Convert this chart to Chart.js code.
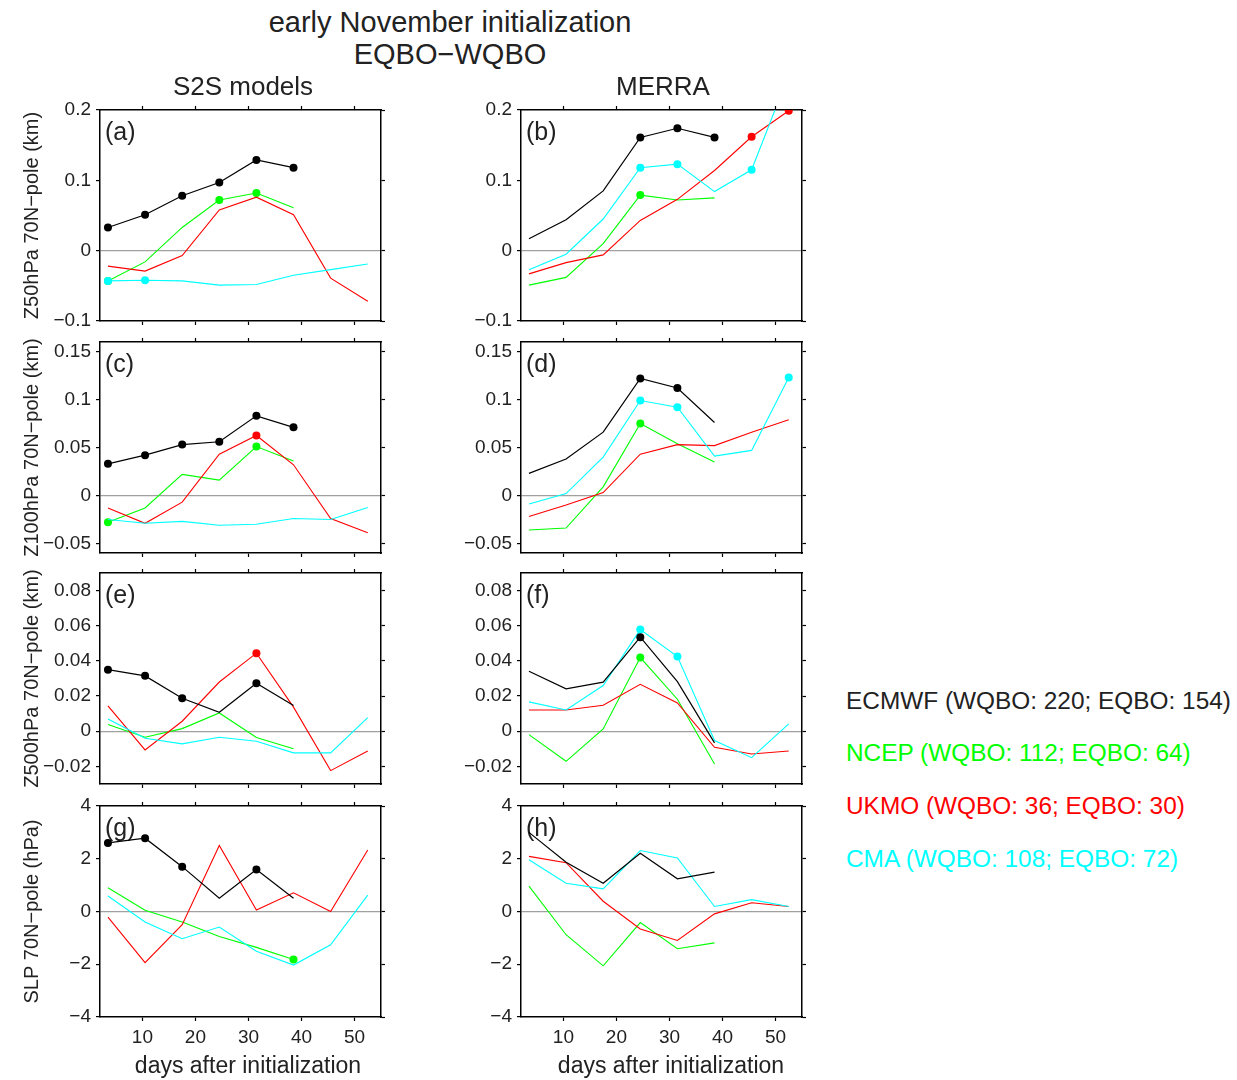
<!DOCTYPE html>
<html>
<head>
<meta charset="utf-8">
<script src="https://cdn.jsdelivr.net/npm/chart.js@4.4.1/dist/chart.umd.min.js"></script>
<style>
  body { margin: 0; background: #fff; width: 1237px; height: 1080px; position: relative; overflow: hidden;
         font-family: "Liberation Sans", Arial, sans-serif; color: #222; }
  canvas { position: absolute; }
  .txt { position: absolute; white-space: nowrap; line-height: 1; }
</style>
</head>
<body>
<script>
// weekly means, centred on day 3.5, 10.5, ...
const days = [3.5, 10.5, 17.5, 24.5, 31.5, 38.5, 45.5, 52.5];
const xTicks = [10, 20, 30, 40, 50];

// Z50 70N-pole, S2S models
const aECMWF = [0.033, 0.051, 0.078, 0.097, 0.129, 0.118];
const aNCEP  = [-0.043, -0.016, 0.033, 0.072, 0.082, 0.061];
const aUKMO  = [-0.022, -0.029, -0.007, 0.058, 0.076, 0.051, -0.039, -0.072];
const aCMA   = [-0.043, -0.042, -0.043, -0.049, -0.048, -0.035, -0.027, -0.019];
// Z50 70N-pole, MERRA
const bECMWF = [0.017, 0.044, 0.085, 0.161, 0.174, 0.161];
const bNCEP  = [-0.049, -0.038, 0.010, 0.079, 0.072, 0.075];
const bUKMO  = [-0.033, -0.017, -0.006, 0.043, 0.073, 0.114, 0.162, 0.199];
const bCMA   = [-0.027, -0.005, 0.045, 0.118, 0.123, 0.084, 0.115, 0.25];
// Z100
const cECMWF = [0.033, 0.042, 0.053, 0.056, 0.083, 0.071];
const cNCEP  = [-0.028, -0.013, 0.022, 0.016, 0.051, 0.036];
const cUKMO  = [-0.013, -0.029, -0.007, 0.043, 0.0625, 0.032, -0.024, -0.039];
const cCMA   = [-0.025, -0.029, -0.027, -0.031, -0.030, -0.024, -0.025, -0.0125];
const dECMWF = [0.023, 0.038, 0.066, 0.122, 0.112, 0.076];
const dNCEP  = [-0.036, -0.034, 0.009, 0.075, 0.054, 0.035];
const dUKMO  = [-0.022, -0.010, 0.003, 0.043, 0.053, 0.052, 0.066, 0.079];
const dCMA   = [-0.009, 0.002, 0.040, 0.099, 0.092, 0.041, 0.047, 0.123];
// Z500
const eECMWF = [0.035, 0.0315, 0.0188, 0.0108, 0.0273, 0.0146];
const eNCEP  = [0.0038, -0.0034, 0.0015, 0.0104, -0.0036, -0.010];
const eUKMO  = [0.0144, -0.0106, 0.0057, 0.028, 0.0444, 0.0137, -0.0224, -0.0112];
const eCMA   = [0.007, -0.004, -0.0072, -0.0034, -0.0057, -0.0123, -0.0123, 0.0078];
const fECMWF = [0.0341, 0.0241, 0.0279, 0.0535, 0.0282, -0.0066];
const fNCEP  = [-0.0019, -0.0171, 0.0013, 0.0419, 0.0182, -0.0186];
const fUKMO  = [0.0121, 0.0121, 0.0148, 0.0267, 0.0161, -0.0091, -0.0129, -0.0112];
const fCMA   = [0.0167, 0.0121, 0.026, 0.0578, 0.0425, -0.0053, -0.015, 0.0042];
// SLP
const gECMWF = [2.6, 2.78, 1.70, 0.50, 1.59, 0.50];
const gNCEP  = [0.90, 0.05, -0.40, -0.95, -1.36, -1.82];
const gUKMO  = [-0.21, -1.94, -0.50, 2.50, 0.06, 0.71, 0.0, 2.33];
const gCMA   = [0.59, -0.40, -1.03, -0.59, -1.51, -2.03, -1.26, 0.62];
const hECMWF = [3.0, 1.87, 1.07, 2.21, 1.24, 1.49];
const hNCEP  = [0.96, -0.88, -2.06, -0.42, -1.41, -1.19];
const hUKMO  = [2.09, 1.85, 0.39, -0.66, -1.10, -0.09, 0.33, 0.19];
const hCMA   = [1.96, 1.07, 0.86, 2.31, 2.03, 0.19, 0.45, 0.19];

// weeks where the difference is significant (dots)
const aSig = { ECMWF: [0, 1, 2, 3, 4, 5], NCEP: [0, 3, 4], UKMO: [], CMA: [0, 1] };
const bSig = { ECMWF: [3, 4, 5], NCEP: [3], UKMO: [6, 7], CMA: [3, 4, 6] };
const cSig = { ECMWF: [0, 1, 2, 3, 4, 5], NCEP: [0, 4], UKMO: [4], CMA: [] };
const dSig = { ECMWF: [3, 4], NCEP: [3], UKMO: [], CMA: [3, 4, 7] };
const eSig = { ECMWF: [0, 1, 2, 4], NCEP: [], UKMO: [4], CMA: [] };
const fSig = { ECMWF: [3], NCEP: [3], UKMO: [], CMA: [3, 4] };
const gSig = { ECMWF: [0, 1, 2, 4], NCEP: [5], UKMO: [], CMA: [] };
const hSig = { ECMWF: [], NCEP: [], UKMO: [], CMA: [] };

const z50Ticks = [-0.1, 0, 0.1, 0.2];
const z100Ticks = [-0.05, 0, 0.05, 0.1, 0.15];
const z500Ticks = [-0.02, 0, 0.02, 0.04, 0.06, 0.08];
const slpTicks = [-4, -2, 0, 2, 4];

const models = ['ECMWF', 'NCEP', 'UKMO', 'CMA'];
const colors = { ECMWF: '#000000', NCEP: '#00ff00', UKMO: '#ff0000', CMA: '#00ffff' };
const legendText = {
  ECMWF: 'ECMWF (WQBO: 220; EQBO: 154)',
  NCEP: 'NCEP (WQBO: 112; EQBO: 64)',
  UKMO: 'UKMO (WQBO: 36; EQBO: 30)',
  CMA: 'CMA (WQBO: 108; EQBO: 72)'
};

const FONT = '"Liberation Sans", Arial, sans-serif';
const INK = '#222';

function addText(str, x, baseline, size, color, center) {
  const d = document.createElement('div');
  d.className = 'txt';
  d.textContent = str;
  d.style.fontSize = size + 'px';
  d.style.color = color;
  d.style.left = x + 'px';
  d.style.top = (baseline - 0.8465 * size) + 'px';
  if (center) d.style.transform = 'translateX(-50%)';
  document.body.appendChild(d);
}

function fmt(v) {
  return String(Number(v.toFixed(4))).replace('-', '\u2212');
}

const panelTag = {
  id: 'panelTag',
  beforeDatasetsDraw(chart, args, o) {
    const { ctx, chartArea } = chart;
    ctx.save();
    ctx.font = '25px ' + FONT;
    ctx.fillStyle = INK;
    ctx.textBaseline = 'alphabetic';
    ctx.fillText(o.text, chartArea.left + 5, chartArea.top + 30);
    ctx.restore();
  }
};

const plotLeft = [100, 521];
const plotTop = [110, 342, 573, 806];
const plotW = 281, plotH = 211;

function panel(col, row, tag, series, sig, yMin, yMax, yTicks, yTitle) {
  const last = row === 3;
  // top/bottom boxes wider than half a y tick label so they fix the plot area
  const leftW = col === 0 ? 84 : 66, topH = 18, rightW = 8, botH = last ? 40 : 18;
  const cv = document.createElement('canvas');
  cv.width = leftW + plotW + rightW;
  cv.height = topH + plotH + botH;
  cv.style.left = (plotLeft[col] - leftW) + 'px';
  cv.style.top = (plotTop[row] - topH) + 'px';
  document.body.appendChild(cv);

  const setX = s => { s.ticks = xTicks.map(v => ({ value: v })); };
  const setY = s => { s.ticks = yTicks.map(v => ({ value: v })); };
  const border = { display: true, color: '#000', width: 1.5 };
  const tickGrid = { drawOnChartArea: false, drawTicks: true, tickLength: 4, tickColor: '#000', tickWidth: 1.2 };

  // ECMWF drawn on top, then CMA, UKMO, NCEP
  const order = ['ECMWF', 'CMA', 'UKMO', 'NCEP'];
  const datasets = order.map(m => ({
    label: m,
    data: series[m].map((v, i) => ({ x: days[i], y: v })),
    borderColor: colors[m],
    backgroundColor: colors[m],
    borderWidth: m === 'ECMWF' ? 1.2 : 1.1,
    pointRadius: ctx => sig[m].includes(ctx.dataIndex) ? 4 : 0,
    pointBorderWidth: 0,
    pointHoverRadius: 0,
    tension: 0
  }));

  new Chart(cv, {
    type: 'line',
    data: { datasets },
    options: {
      responsive: false,
      animation: false,
      devicePixelRatio: 1,
      layout: { autoPadding: false, padding: 0 },
      plugins: { legend: { display: false }, tooltip: { enabled: false }, panelTag: { text: tag } },
      scales: {
        x: {
          type: 'linear', position: 'bottom', min: 2, max: 55,
          afterBuildTicks: setX,
          afterFit: s => { s.height = botH; },
          border,
          grid: tickGrid,
          ticks: { display: last, color: INK, font: { family: FONT, size: 19 }, padding: 5, maxRotation: 0,
                   callback: v => String(v) }
        },
        x2: {
          type: 'linear', position: 'top', min: 2, max: 55,
          afterBuildTicks: setX,
          afterFit: s => { s.height = topH; },
          border, grid: tickGrid, ticks: { display: false }
        },
        y: {
          type: 'linear', position: 'left', min: yMin, max: yMax,
          afterBuildTicks: setY,
          afterFit: s => { s.width = leftW; },
          border,
          grid: {
            drawOnChartArea: true, drawTicks: true, tickLength: 4, tickColor: '#000', tickWidth: 1.2,
            lineWidth: 1.2,
            color: ctx => (ctx.tick && ctx.tick.value === 0) ? '#a0a0a0' : 'rgba(0,0,0,0)'
          },
          ticks: { color: INK, font: { family: FONT, size: 19 }, padding: 5, callback: v => fmt(v) },
          title: { display: !!yTitle, text: yTitle || '', color: INK,
                   font: { family: FONT, size: 20 }, padding: { top: 4, bottom: 4 } }
        },
        y2: {
          type: 'linear', position: 'right', min: yMin, max: yMax,
          afterBuildTicks: setY,
          afterFit: s => { s.width = rightW; },
          border, grid: tickGrid, ticks: { display: false }
        }
      }
    },
    plugins: [panelTag]
  });
}

const pack = (e, n, u, c) => ({ ECMWF: e, NCEP: n, UKMO: u, CMA: c });

panel(0, 0, '(a)', pack(aECMWF, aNCEP, aUKMO, aCMA), aSig, -0.1, 0.2, z50Ticks, 'Z50hPa 70N\u2212pole (km)');
panel(1, 0, '(b)', pack(bECMWF, bNCEP, bUKMO, bCMA), bSig, -0.1, 0.2, z50Ticks);
panel(0, 1, '(c)', pack(cECMWF, cNCEP, cUKMO, cCMA), cSig, -0.06, 0.16, z100Ticks, 'Z100hPa 70N\u2212pole (km)');
panel(1, 1, '(d)', pack(dECMWF, dNCEP, dUKMO, dCMA), dSig, -0.06, 0.16, z100Ticks);
panel(0, 2, '(e)', pack(eECMWF, eNCEP, eUKMO, eCMA), eSig, -0.03, 0.09, z500Ticks, 'Z500hPa 70N\u2212pole (km)');
panel(1, 2, '(f)', pack(fECMWF, fNCEP, fUKMO, fCMA), fSig, -0.03, 0.09, z500Ticks);
panel(0, 3, '(g)', pack(gECMWF, gNCEP, gUKMO, gCMA), gSig, -4, 4, slpTicks, 'SLP 70N\u2212pole (hPa)');
panel(1, 3, '(h)', pack(hECMWF, hNCEP, hUKMO, hCMA), hSig, -4, 4, slpTicks);

addText('early November initialization', 450, 33, 29, INK, true);
addText('EQBO\u2212WQBO', 450, 65, 29, INK, true);
addText('S2S models', 243, 95, 26, INK, true);
addText('MERRA', 663, 95, 26, INK, true);
addText('days after initialization', 248, 1073, 23, INK, true);
addText('days after initialization', 671, 1073, 23, INK, true);

const legendBase = [710, 762, 815, 868];
models.forEach((m, i) => addText(legendText[m], 846, legendBase[i], 24.4, m === 'ECMWF' ? INK : colors[m], false));
</script>
</body>
</html>
